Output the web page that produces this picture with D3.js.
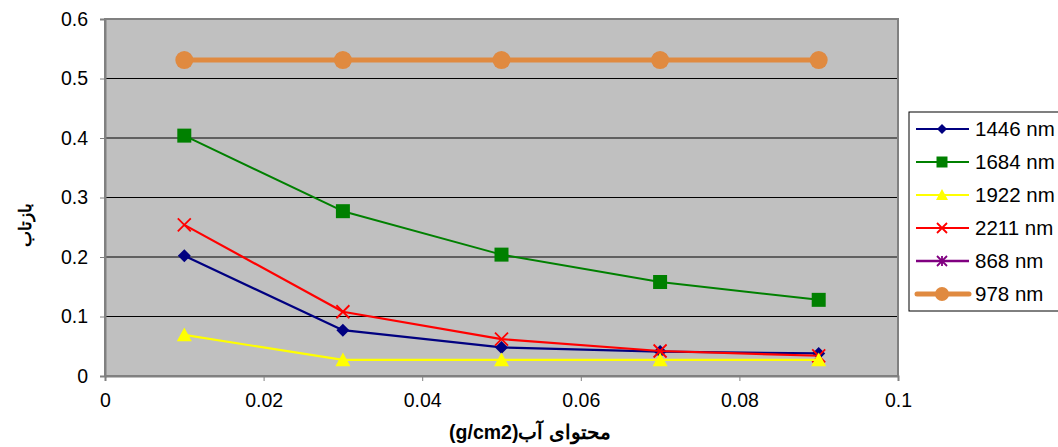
<!DOCTYPE html>
<html>
<head>
<meta charset="utf-8">
<script src="https://cdn.jsdelivr.net/npm/d3@7"></script>
<style>
  body { margin: 0; background: #fff; }
  text { font-family: "Liberation Sans", Arial, sans-serif; }
</style>
</head>
<body>
<svg id="chart" width="1058" height="447"></svg>
<script>
// water content (g/cm2)
const xValues = [0.01, 0.03, 0.05, 0.07, 0.09];

// reflectance per band
const r1446 = [0.202, 0.077, 0.048, 0.041, 0.038];
const r1684 = [0.404, 0.277, 0.204, 0.158, 0.128];
const r1922 = [0.069, 0.027, 0.027, 0.027, 0.027];
const r2211 = [0.254, 0.108, 0.062, 0.042, 0.034];
const r868 = [0.531, 0.531, 0.531, 0.531, 0.531]; // hidden under 978
const r978 = [0.531, 0.531, 0.531, 0.531, 0.531];

const seriesNames = ["1446 nm", "1684 nm", "1922 nm", "2211 nm", "868 nm", "978 nm"];
const xTicks = [0, 0.02, 0.04, 0.06, 0.08, 0.1];
const yTicks = [0, 0.1, 0.2, 0.3, 0.4, 0.5, 0.6];

// units sit on the left, persian words on the right
const xLabel = "(g/cm2)محتوای آب";
const yLabel = "بازتاب";

const series = [
  { name: seriesNames[0], values: r1446, color: "#000080", marker: "diamond", lw: 2.2 },
  { name: seriesNames[1], values: r1684, color: "#008000", marker: "square", lw: 2 },
  { name: seriesNames[2], values: r1922, color: "#ffff00", marker: "triangle", lw: 2.2 },
  { name: seriesNames[3], values: r2211, color: "#ff0000", marker: "cross", lw: 2.2 },
  { name: seriesNames[4], values: r868, color: "#800080", marker: "star", lw: 2.5 },
  { name: seriesNames[5], values: r978, color: "#e08a40", marker: "circle", lw: 5 }
];

const svg = d3.select("#chart");
const plot = { left: 105, top: 19, right: 898, bottom: 376 };

const x = d3.scaleLinear().domain([0, 0.1]).range([plot.left, plot.right]);
const y = d3.scaleLinear().domain([0, 0.6]).range([plot.bottom, plot.top]);

// plot background
svg.append("rect")
  .attr("x", plot.left).attr("y", plot.top)
  .attr("width", plot.right - plot.left).attr("height", plot.bottom - plot.top)
  .attr("fill", "#c0c0c0");

// gridlines
svg.append("g").selectAll("line")
  .data(yTicks.slice(1, -1))
  .enter().append("line")
  .attr("x1", plot.left).attr("x2", plot.right)
  .attr("y1", d => y(d)).attr("y2", d => y(d))
  .attr("stroke", "#000").attr("stroke-width", 1);

// border
svg.append("rect")
  .attr("x", plot.left).attr("y", plot.top)
  .attr("width", plot.right - plot.left).attr("height", plot.bottom - plot.top)
  .attr("fill", "none").attr("stroke", "#808080").attr("stroke-width", 2);

// axes
const yAxis = svg.append("g")
  .attr("transform", `translate(${plot.left},0)`)
  .call(d3.axisLeft(y).tickValues(yTicks).tickSize(5).tickPadding(12).tickFormat(d3.format("")));
const xAxis = svg.append("g")
  .attr("transform", `translate(0,${plot.bottom})`)
  .call(d3.axisBottom(x).tickValues(xTicks).tickSize(5).tickPadding(12).tickFormat(d3.format("")));

[yAxis, xAxis].forEach(a => {
  a.select(".domain").attr("stroke", "#808080").attr("stroke-width", 2);
  a.selectAll(".tick line").attr("stroke", "#808080");
  a.selectAll(".tick text").attr("font-size", 19.5).attr("fill", "#000")
    .style("font-family", "'Liberation Sans', Arial, sans-serif");
});

// marker shapes, s = full width in px
const markerPath = (type, s) => {
  const h = s / 2;
  if (type === "diamond") return `M0,${-h}L${h},0L0,${h}L${-h},0Z`;
  if (type === "square") return `M${-h},${-h}H${h}V${h}H${-h}Z`;
  if (type === "triangle") return `M0,${-h}L${h},${h * 0.85}L${-h},${h * 0.85}Z`;
  if (type === "circle") return `M${h},0A${h},${h} 0 1,1 ${-h},0A${h},${h} 0 1,1 ${h},0Z`;
  if (type === "cross") return `M${-h},${-h}L${h},${h}M${-h},${h}L${h},${-h}`;
  if (type === "star") return `M${-h},${-h}L${h},${h}M${-h},${h}L${h},${-h}M0,${-h}L0,${h}`;
};
const isStroked = t => t === "cross" || t === "star";
const plotSize = { diamond: 13, square: 14, triangle: 15, circle: 18, cross: 13, star: 12 };
const legendSize = { diamond: 10, square: 11, triangle: 12, circle: 14, cross: 10, star: 10 };

const line = d3.line().x((d, i) => x(xValues[i])).y(d => y(d));

// draw 868 first so it stays under 978, then the rest
const drawOrder = [4, 5, 0, 3, 2, 1];
drawOrder.forEach(k => {
  const s = series[k];
  const g = svg.append("g");
  g.append("path")
    .datum(s.values)
    .attr("d", line)
    .attr("fill", "none")
    .attr("stroke", s.color)
    .attr("stroke-width", s.lw)
    .attr("stroke-linejoin", "round");
  g.selectAll("path.m")
    .data(s.values)
    .enter().append("path")
    .attr("class", "m")
    .attr("transform", (d, i) => `translate(${x(xValues[i])},${y(d)})`)
    .attr("d", markerPath(s.marker, plotSize[s.marker]))
    .attr("fill", isStroked(s.marker) ? "none" : s.color)
    .attr("stroke", s.color)
    .attr("stroke-width", isStroked(s.marker) ? 1.8 : 0);
});

// legend
const legend = svg.append("g");
legend.append("rect")
  .attr("x", 909).attr("y", 112).attr("width", 160).attr("height", 199)
  .attr("fill", "#fff").attr("stroke", "#000").attr("stroke-width", 1);

series.forEach((s, i) => {
  const ly = 129 + i * 33;
  const row = legend.append("g");
  row.append("line")
    .attr("x1", s.marker === "circle" ? 917 : 916).attr("x2", 969).attr("y1", ly).attr("y2", ly)
    .attr("stroke", s.color).attr("stroke-width", s.lw)
    .attr("stroke-linecap", s.marker === "circle" ? "round" : "butt");
  row.append("path")
    .attr("transform", `translate(942,${ly})`)
    .attr("d", markerPath(s.marker, legendSize[s.marker]))
    .attr("fill", isStroked(s.marker) ? "none" : s.color)
    .attr("stroke", s.color)
    .attr("stroke-width", isStroked(s.marker) ? 1.8 : 0);
  row.append("text")
    .attr("x", 975).attr("y", ly).attr("dy", "0.36em")
    .attr("font-size", 20.5)
    .text(s.name);
});

// axis titles
svg.append("text")
  .attr("x", 530).attr("y", 439)
  .attr("text-anchor", "middle")
  .attr("font-size", 19.5).attr("font-weight", "bold")
  .text(xLabel);

svg.append("text")
  .attr("transform", "translate(31,225) rotate(-90)")
  .attr("text-anchor", "middle")
  .attr("font-size", 17).attr("font-weight", "bold")
  .text(yLabel);
</script>
</body>
</html>
